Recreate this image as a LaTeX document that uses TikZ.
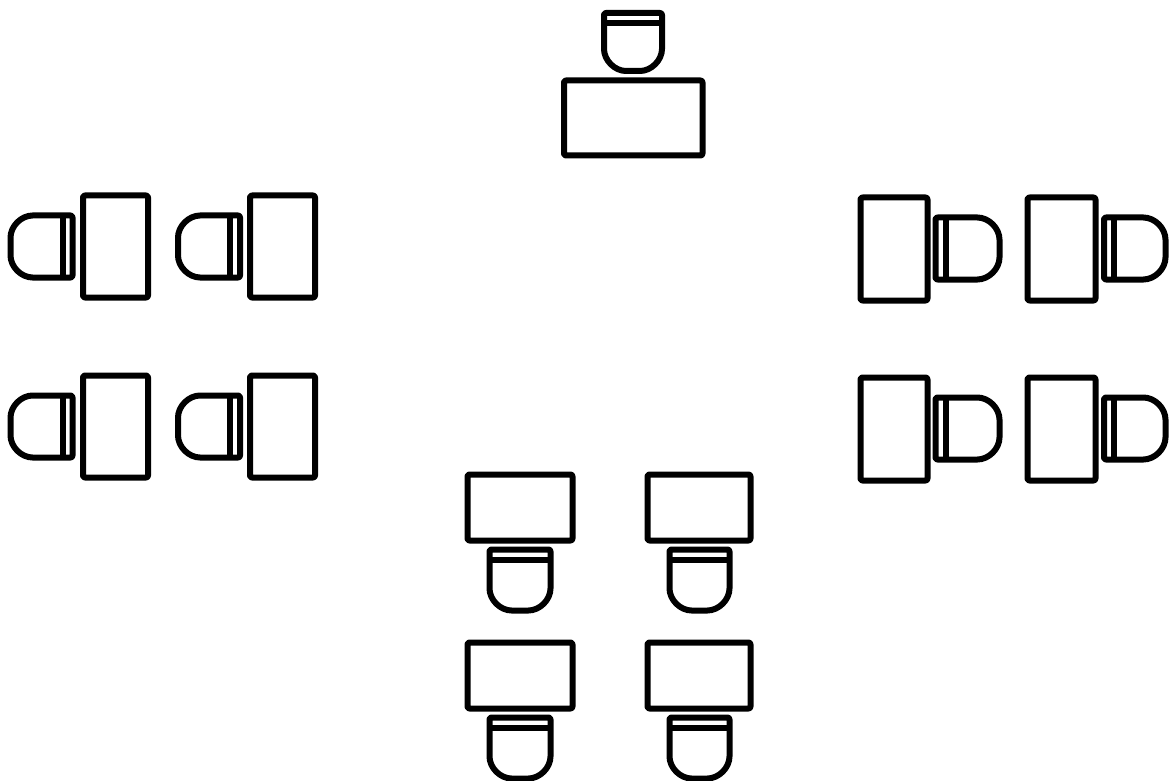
\documentclass[tikz,border=0pt]{standalone}
\begin{document}
\begin{tikzpicture}[x=1pt,y=-1pt,
  furn/.style={draw=black,line width=6pt,line join=round,rounded corners=2pt},
  desk/.style={furn},
  chair/.style={furn}]
\useasboundingbox (0,0) rectangle (1171,781);
% chair with bar on top, round on bottom: l r t b
\newcommand{\chairdown}[4]{%
  \draw[chair] (#1,#3) -- (#2,#3) -- (#2,#4-24) arc[start angle=0,end angle=90,radius=24]
     -- (#1+24,#4) arc[start angle=90,end angle=180,radius=24] -- cycle;
  \draw[chair] (#1,#3+10) -- (#2,#3+10);}
% chair with bar on right, round on left
\newcommand{\chairleft}[4]{%
  \draw[chair] (#2,#3) -- (#2,#4) -- (#1+24,#4) arc[start angle=90,end angle=180,radius=24]
     -- (#1,#3+24) arc[start angle=180,end angle=270,radius=24] -- cycle;
  \draw[chair] (#2-10,#3) -- (#2-10,#4);}
% chair with bar on left, round on right
\newcommand{\chairright}[4]{%
  \draw[chair] (#1,#3) -- (#2-24,#3) arc[start angle=270,end angle=360,radius=24]
     -- (#2,#4-24) arc[start angle=0,end angle=90,radius=24] -- (#1,#4) -- cycle;
  \draw[chair] (#1+10,#3) -- (#1+10,#4);}
\newcommand{\desk}[4]{\draw[desk] (#1,#3) rectangle (#2,#4);}

% teacher
\chairdown{604}{662}{13}{71}
\desk{564}{702.5}{80.5}{155.5}

% left side
\foreach \dy in {0,180}{
  \desk{83}{148}{195.5+\dy}{297.5+\dy}
  \chairleft{10.5}{72.5}{215.5+\dy}{277.5+\dy}
  \desk{250}{315}{195.5+\dy}{297.5+\dy}
  \chairleft{178}{240}{215.5+\dy}{277.5+\dy}
}
% right side
\foreach \dy in {0,180}{
  \desk{860.5}{927.5}{197.5+\dy}{300.5+\dy}
  \chairright{935.5}{999.5}{217.5+\dy}{279.5+\dy}
  \desk{1027.5}{1095.5}{197.5+\dy}{300.5+\dy}
  \chairright{1104}{1165.5}{217.5+\dy}{279.5+\dy}
}
% bottom
\foreach \dy in {0,168}{
  \desk{467.5}{572.5}{474.5+\dy}{540.5+\dy}
  \chairdown{489.5}{550.5}{549.5+\dy}{610.5+\dy}
  \desk{647.5}{750.5}{474.5+\dy}{540.5+\dy}
  \chairdown{669.5}{729.5}{549.5+\dy}{610.5+\dy}
}
\end{tikzpicture}
\end{document}
